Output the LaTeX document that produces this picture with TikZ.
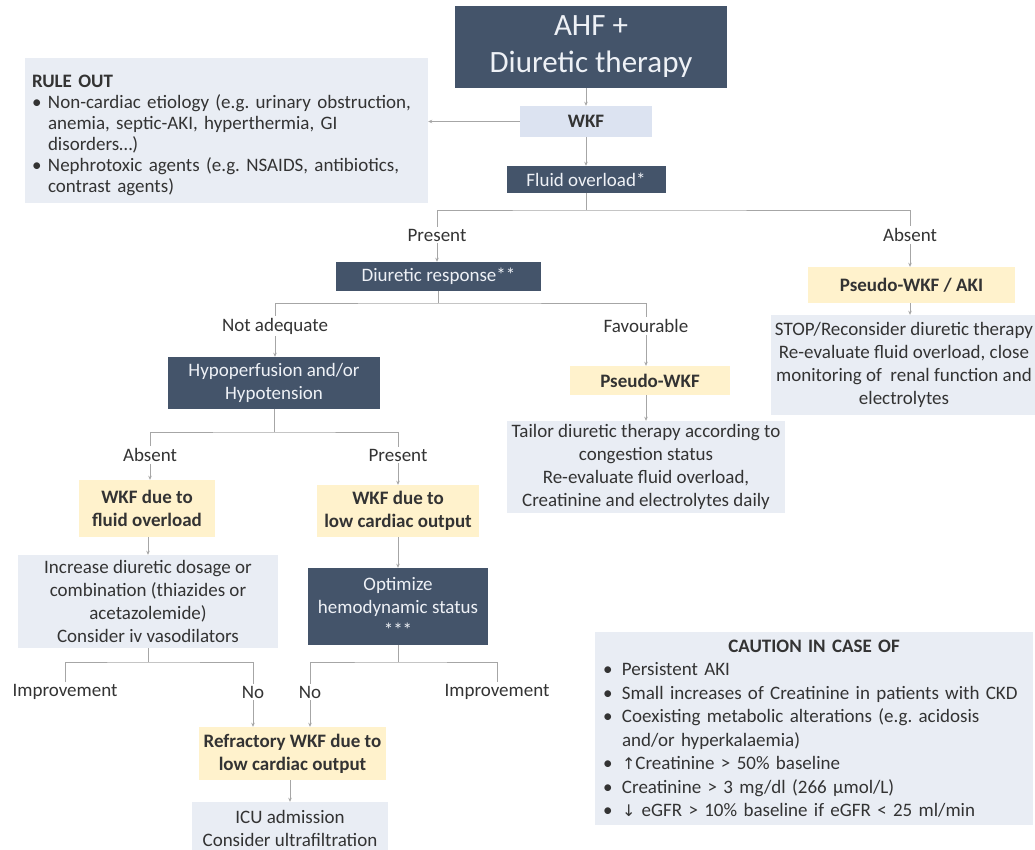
\documentclass[tikz,border=0pt]{standalone}
\usepackage{fontspec}
\setmainfont{Carlito}
\newfontfamily\symf{DejaVu Sans}
\usetikzlibrary{arrows.meta}
\definecolor{navy}{HTML}{44546A}
\definecolor{boxwhite}{HTML}{EEF1F6}
\definecolor{paleblue}{HTML}{E9EDF4}
\definecolor{wkfblue}{HTML}{DCE3F1}
\definecolor{paleyel}{HTML}{FFF2CC}
\definecolor{txt}{HTML}{333333}
\definecolor{linec}{HTML}{A6A6A6}
\newcommand\bul{\makebox[16pt][l]{\textbullet}}
\newcommand\ind{\hspace*{16pt}}
\newcommand\cbul{\makebox[19pt][l]{\textbullet}}
\newcommand\cind{\hspace*{19pt}}
\begin{document}
\frenchspacing
\begin{tikzpicture}[x=1pt,y=-1pt,
  base/.style={inner sep=0pt, align=center, font=\fontsize{19}{23}\selectfont},
  dark/.style={base, fill=navy, text=boxwhite},
  pale/.style={base, fill=paleblue, text=txt},
  yel/.style={base, fill=paleyel, text=txt, font=\fontsize{19}{23}\selectfont\bfseries},
  lbl/.style={inner sep=2pt, text=txt, font=\fontsize{19}{23}\selectfont},
  conn/.style={draw=linec, line width=0.8pt},
  arr/.style={conn, -{Stealth[length=4pt,width=3.5pt]}}]
\clip (0,0) rectangle (1035,850);
\fill[white] (0,0) rectangle (1035,850);

% top column
\node[dark, minimum width=272pt, minimum height=82pt, font=\fontsize{31}{37}\selectfont] (ahf) at (591,47) {AHF +\\Diuretic therapy};
\node[base, fill=wkfblue, text=txt, minimum width=132pt, minimum height=31pt, font=\fontsize{19}{23}\selectfont\bfseries] (wkf) at (586,121.5) {WKF};
\node[dark, minimum width=159pt, minimum height=27pt] (fluid) at (586,179.5) {Fluid overload*};
\node[pale, minimum width=403pt, minimum height=145pt] (ruleout) at (226.5,130.5) {};
\node[base, text=txt, align=left, text width=389pt, font=\fontsize{19}{21}\selectfont] (ruletext) at (226.5,135.5)
 {\textbf{RULE OUT}\\
  \bul Non-cardiac etiology (e.g. urinary obstruction,\\
  \ind anemia, septic-AKI, hyperthermia, GI\\
  \ind disorders\ldots)\\
  \bul Nephrotoxic agents (e.g. NSAIDS, antibiotics,\\
  \ind contrast agents)};

% first branch
\node[lbl] (pres1) at (437,235) {Present};
\node[lbl] (abs1) at (910,235) {Absent};
\coordinate (bar1) at (586,210);

\node[dark, minimum width=205pt, minimum height=29pt] (diur) at (438.5,276.5) {Diuretic response**};
\coordinate (bar2) at (438.5,303);
\node[lbl] (notad) at (275,326) {Not adequate};
\node[lbl] (fav) at (646,326) {Favourable};

\node[dark, minimum width=212pt, minimum height=52pt] (hypo) at (274,383) {Hypoperfusion and/or\\Hypotension};
\node[yel, minimum width=160pt, minimum height=29pt] (pwkf) at (650,380.5) {Pseudo-WKF};
\node[pale, minimum width=278pt, minimum height=92pt] (tailor) at (646,467) {Tailor diuretic therapy according to\\congestion status\\Re-evaluate fluid overload,\\Creatinine and electrolytes daily};

\node[yel, minimum width=207pt, minimum height=36pt] (pwkfaki) at (911.5,285) {Pseudo-WKF / AKI};
\node[pale, minimum width=280pt, minimum height=100pt] (stop) at (911,365) {};
\node[base, text=txt] (stoptext) at (904,365) {STOP/Reconsider diuretic therapy\\Re-evaluate fluid overload, close\\monitoring of \ renal function and\\electrolytes};

% hypoperfusion branch
\coordinate (bar3) at (274,432);
\node[lbl] (abs2) at (150,455) {Absent};
\node[lbl] (pres2) at (398,455) {Present};
\node[yel, minimum width=136pt, minimum height=57pt] (wkffo) at (147,508.5) {WKF due to\\fluid overload};
\node[yel, minimum width=162pt, minimum height=52pt] (wkflco) at (398,511) {WKF due to\\low cardiac output};
\node[pale, minimum width=260pt, minimum height=93pt] (incr) at (148,601.5) {Increase diuretic dosage or\\combination (thiazides or\\acetazolemide)\\Consider iv vasodilators};
\node[dark, minimum width=180pt, minimum height=77pt] (optim) at (398,606.5) {Optimize\\hemodynamic status\\***};

\coordinate (bar4) at (148,662);
\coordinate (bar5) at (398,662);
\node[lbl] (impr1) at (65,692) {Improvement};
\node[lbl] (no1) at (253,692) {No};
\node[lbl] (no2) at (310,692) {No};
\node[lbl] (impr2) at (497,692) {Improvement};

\node[yel, minimum width=187pt, minimum height=53pt] (refr) at (292.5,753.5) {Refractory WKF due to\\low cardiac output};
\node[pale, minimum width=196pt, minimum height=52pt] (icu) at (290,828) {ICU admission\\Consider ultrafiltration};

% caution box
\node[pale, align=left, text width=422pt, inner xsep=8pt, minimum height=193pt, font=\fontsize{19}{23.5}\selectfont] (caution) at (814,728.5)
 {\makebox[\linewidth][c]{\textbf{CAUTION IN CASE OF}}\\
  \cbul Persistent AKI\\
  \cbul Small increases of Creatinine in patients with CKD\\
  \cbul Coexisting metabolic alterations (e.g. acidosis\\
  \cind and/or hyperkalaemia)\\
  \cbul {\symf\fontsize{16}{20}\selectfont ↑}Creatinine > 50\% baseline\\
  \cbul Creatinine > 3 mg/dl (266 µmol/L)\\
  \cbul {\symf\fontsize{16}{20}\selectfont ↓} eGFR > 10\% baseline if eGFR < 25 ml/min};

% connectors
\draw[arr] (wkf.north |- ahf.south) -- (wkf.north);
\draw[arr] (wkf.west) -- (wkf.west -| ruleout.east);
\draw[arr] (wkf.south) -- (fluid.north);
\draw[conn] (fluid.south) -- (bar1);
\draw[conn] (pres1.north) |- (bar1) -| (abs1.north);
\draw[arr] (pres1.south) -- (pres1.south |- diur.north);
\draw[arr] (abs1.south) -- (abs1.south |- pwkfaki.north);
\draw[arr] (pwkfaki.south -| abs1.south) -- (abs1.south |- stop.north);

\draw[conn] (diur.south) -- (bar2);
\draw[conn] (notad.north) |- (bar2) -| (fav.north);
\draw[arr] (notad.south) -- (notad.south |- hypo.north);
\draw[arr] (fav.south) -- (fav.south |- pwkf.north);
\draw[arr] (pwkf.south -| tailor.north) -- (tailor.north);

\draw[conn] (hypo.south) -- (bar3);
\draw[conn] (abs2.north) |- (bar3) -| (pres2.north);
\draw[arr] (abs2.south) -- (abs2.south |- wkffo.north);
\draw[arr] (pres2.south) -- (pres2.south |- wkflco.north);
\draw[arr] (wkffo.south -| incr.north) -- (incr.north);
\draw[arr] (wkflco.south) -- (wkflco.south |- optim.north);

\draw[conn] (incr.south) -- (bar4);
\draw[conn] (impr1.north) |- (bar4) -| (no1.north);
\draw[conn] (optim.south) -- (bar5);
\draw[conn] (no2.north) |- (bar5) -| (impr2.north);
\draw[arr] (no1.south) -- (no1.south |- refr.north);
\draw[arr] (no2.south) -- (no2.south |- refr.north);
\draw[arr] (refr.south -| icu.north) -- (icu.north);
\end{tikzpicture}
\end{document}
